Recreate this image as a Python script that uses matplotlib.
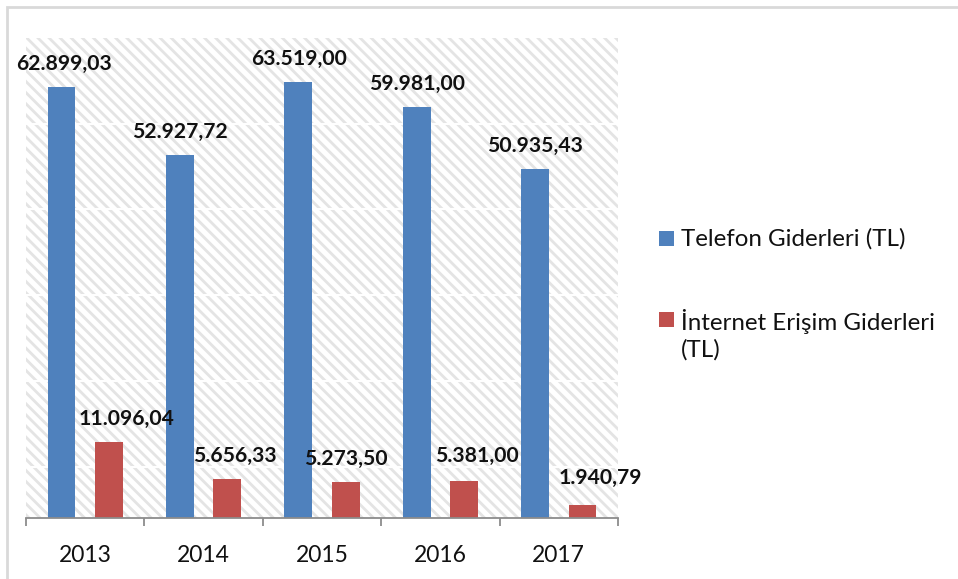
import numpy as np
import matplotlib
matplotlib.use("Agg")
import matplotlib.pyplot as plt
from matplotlib.patches import Rectangle

# data
years = ["2013", "2014", "2015", "2016", "2017"]
telefon = [62899.03, 52927.72, 63519.00, 59981.00, 50935.43]
internet = [11096.04, 5656.33, 5273.50, 5381.00, 1940.79]
series_names = ["Telefon Giderleri (TL)", "İnternet Erişim Giderleri\n(TL)"]

# label nudges in pixels (dx, dy) -- the original has a few labels moved by hand
tel_nudge = [(2, 0), (0, 0), (1, 0), (0, 0), (0, 0)]
int_nudge = [(18, 0), (8, 0), (0, 0), (13, 2), (18, 4)]

blue = "#4f81bd"
red = "#c0504d"
font = "Lato"

plt.rcParams["font.family"] = [font, "DejaVu Sans"]
plt.rcParams["hatch.linewidth"] = 2.0


def tr_fmt(v):
    s = f"{v:,.2f}"
    return s.replace(",", "X").replace(".", ",").replace("X", ".")


fig = plt.figure(figsize=(9.58, 5.79), dpi=100)
W, H = 958, 579
ax = fig.add_axes([26 / W, 1 - 518 / H, 592 / W, 480 / H])

# hatched plot area
ax.patch.set_facecolor("white")
ax.patch.set_hatch("\\\\\\")
ax.patch.set_edgecolor("#e4e4e4")
ax.patch.set_linewidth(0)

x = np.arange(len(years))
off = 0.2
bw = 0.235
b1 = ax.bar(x - off, telefon, bw, color=blue, zorder=3)
b2 = ax.bar(x + off, internet, bw, color=red, zorder=3)

ax.set_xlim(-0.5, len(years) - 0.5)
ax.set_ylim(0, 70000)

# faint white lines across the pattern
ax.set_yticks(np.arange(7500, 70000, 12500))
ax.grid(axis="y", color="white", lw=1.4, zorder=1)
ax.tick_params(axis="y", left=False, labelleft=False)

# category boundaries as ticks, year labels in between
ax.set_xticks(np.arange(-0.5, len(years), 1.0))
ax.set_xticklabels([])
ax.set_xticks(x, minor=True)
ax.set_xticklabels(years, minor=True, fontsize=16.5, color="#111111")
ax.tick_params(axis="x", which="major", direction="out", length=6, width=1.3,
               color="#8c8c8c")
ax.tick_params(axis="x", which="minor", length=0, pad=19.5)

for s in ["top", "right", "left"]:
    ax.spines[s].set_visible(False)
ax.spines["bottom"].set_color("#8c8c8c")
ax.spines["bottom"].set_linewidth(1.3)
ax.spines["bottom"].set_zorder(4)

for bars, vals, nudge in [(b1, telefon, tel_nudge), (b2, internet, int_nudge)]:
    for rect, v, (dx, dy) in zip(bars, vals, nudge):
        ax.annotate(tr_fmt(v), (rect.get_x() + rect.get_width() / 2, v),
                    xytext=(dx * 0.72, (17 + dy) * 0.72), textcoords="offset points",
                    ha="center", va="baseline", fontsize=15.2, fontweight="bold",
                    color="#111111", zorder=5)

# legend drawn by hand so the marker sits on the first line of a wrapped name
leg_top = [231, 312]
line_h = 30
for name, col, top in zip(series_names, [blue, red], leg_top):
    fig.patches.append(Rectangle((659 / W, 1 - (top + 15) / H), 15 / W, 15 / H,
                                 transform=fig.transFigure, facecolor=col,
                                 edgecolor="none"))
    # baseline refers to the last line of a multi-line text
    base = top + 15 + line_h * name.count("\n")
    fig.text(681 / W, 1 - base / H, name, transform=fig.transFigure,
             ha="left", va="baseline", fontsize=17.4, color="#111111",
             linespacing=1.33)

# outer chart border
fig.patches.append(Rectangle((7 / W, -0.2), 1.2, 1.2 - 7 / H, transform=fig.transFigure,
                             fill=False, edgecolor="#d9d9d9", lw=2, zorder=0))

fig.savefig("out.png", dpi=100)
